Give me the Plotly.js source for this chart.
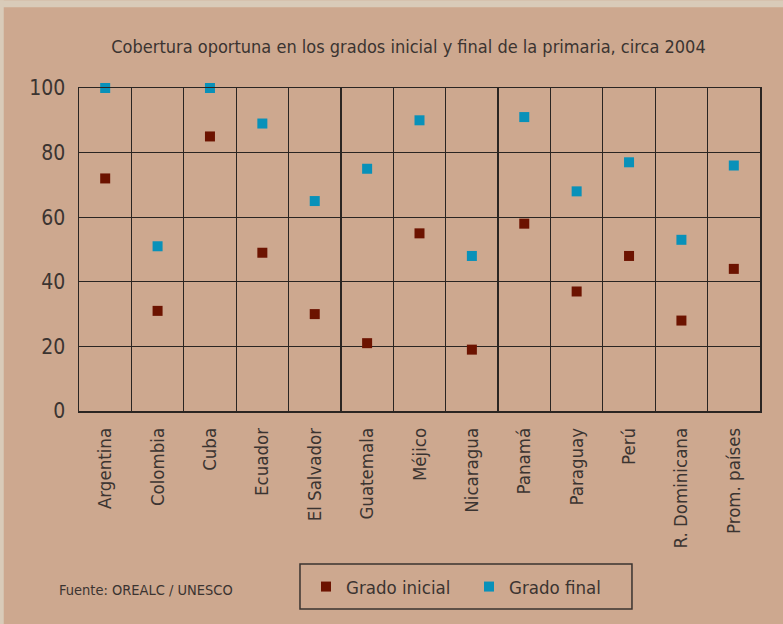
<!DOCTYPE html>
<html>
<head>
<meta charset="utf-8">
<script src="https://cdn.plot.ly/plotly-3.0.1.min.js"></script>
<style>html,body{margin:0;padding:0;background:#cda88f;}#chart{width:783px;height:624px;}</style>
</head>
<body>
<div id="chart"></div>
<script>
const categories = ["Argentina","Colombia","Cuba","Ecuador","El Salvador","Guatemala","Méjico","Nicaragua","Panamá","Paraguay","Perú","R. Dominicana","Prom. países"];
const gradoInicial = [72,31,85,49,30,21,55,19,58,37,48,28,44];
const gradoFinal = [100,51,100,89,65,75,90,48,91,68,77,53,76];
const yTicks = [0,20,40,60,80,100];

const FONT = "'DejaVu Sans Condensed','Liberation Sans Narrow',sans-serif";
const TXT = "#3b3431";

const traces = [
  {type:"scatter", mode:"markers", name:"Grado inicial", x:categories, y:gradoInicial,
   marker:{symbol:"square", size:10, color:"#6c1300"}, cliponaxis:false},
  {type:"scatter", mode:"markers", name:"Grado final", x:categories, y:gradoFinal,
   marker:{symbol:"square", size:10, color:"#0891b9"}, cliponaxis:false}
];

const layout = {
  width:783, height:624,
  paper_bgcolor:"#cda88f", plot_bgcolor:"rgba(0,0,0,0)",
  margin:{l:79, r:23, t:88, b:213},
  font:{family:FONT, color:TXT},
  title:{text:"Cobertura oportuna en los grados inicial y final de la primaria, circa 2004",
         x:0.5217, xanchor:"center", y:0.925, yanchor:"middle", font:{size:18, family:FONT, color:TXT}},
  xaxis:{type:"category", range:[-0.5,12.5], tickson:"boundaries", showgrid:true,
         gridcolor:"#2a2522", gridwidth:1.2, showline:true, linecolor:"#2a2522", linewidth:1.5, mirror:true,
         tickangle:-90, ticks:"", ticklabelstandoff:8, tickfont:{size:18.5, family:FONT, color:TXT}, fixedrange:true},
  yaxis:{range:[0,100], tickvals:yTicks, showgrid:true, gridcolor:"#2a2522", gridwidth:1.2,
         showline:true, linecolor:"#2a2522", linewidth:1.5, mirror:true, zeroline:false,
         ticks:"", ticklabelstandoff:8, tickfont:{size:21, family:FONT, color:TXT}, fixedrange:true},
  showlegend:true,
  legend:{orientation:"h", x:0.3333, xanchor:"left", y:-0.545, yanchor:"middle",
          borderwidth:0, bgcolor:"rgba(0,0,0,0)",
          font:{size:18.5, family:FONT, color:TXT}, itemwidth:30, entrywidth:118, entrywidthmode:"pixels"},
  shapes:[
    {type:"rect", xref:"paper", yref:"paper", x0:-0.2, x1:1.1, y0:1.25, y1:1.272, fillcolor:"#d9cbb9", line:{width:0}, layer:"below"},
    {type:"rect", xref:"paper", yref:"paper", x0:-0.2, x1:-0.1105, y0:-0.8, y1:1.272, fillcolor:"#d9cbb9", line:{width:0}, layer:"below"},
    {type:"rect", xref:"paper", yref:"paper", x0:0.3245, x1:0.812, y0:-0.613, y1:-0.474, fillcolor:"rgba(0,0,0,0)", line:{width:1.5, color:"#3a3330"}}
  ],
  annotations:[
    {text:"Fuente: OREALC / UNESCO", xref:"paper", yref:"paper", x:-0.032, xanchor:"left",
     y:-0.555, yanchor:"middle", showarrow:false, font:{size:14.5, family:FONT, color:TXT}}
  ]
};

Plotly.newPlot("chart", traces, layout, {displayModeBar:false, staticPlot:true});
</script>
</body>
</html>
